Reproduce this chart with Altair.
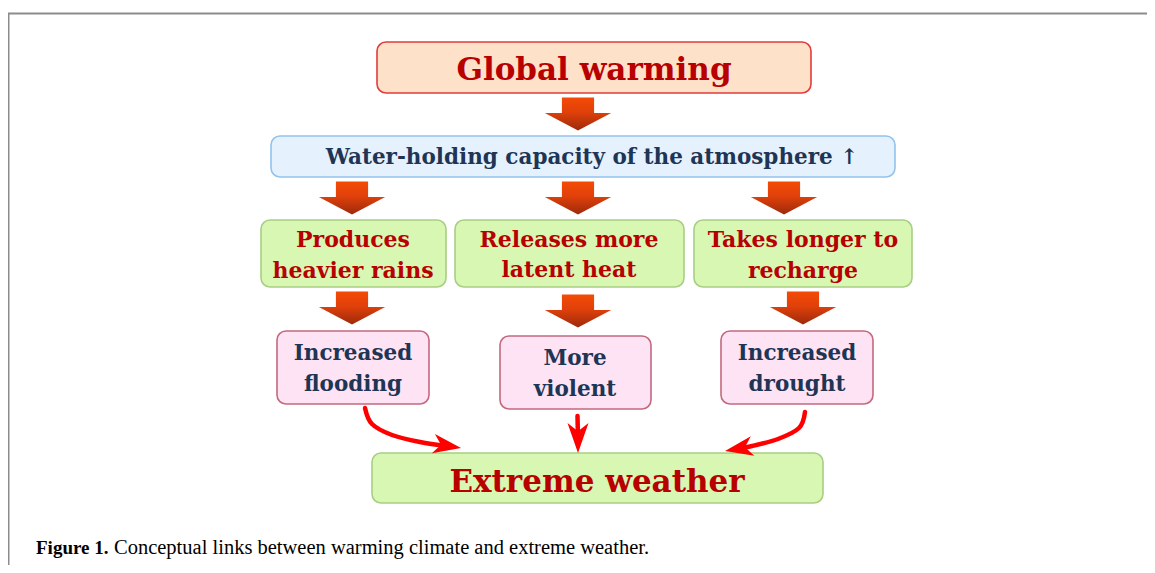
import altair as alt
import pandas as pd

W, H = 1139, 557

# ---------------- boxes ----------------
box_id = ["gw", "wh", "g1", "g2", "g3", "p1", "p2", "p3", "ew"]
box_kind = ["peach", "blue", "green", "green", "green", "pink", "pink", "pink", "green"]
box_left = [377, 271, 261, 455, 694, 277, 500, 721, 372]
box_right = [811, 895, 446, 684, 912, 429, 651, 873, 823]
box_top = [42, 136, 220, 220, 220, 331, 336, 331, 453]
box_bottom = [93, 177, 287, 287, 287, 404, 409, 404, 503]

kinds = ["peach", "blue", "green", "pink"]
kind_fill = ["#fde1c8", "#e5f1fc", "#d7f7b3", "#fde3f3"]
kind_stroke = ["#e33b3b", "#91c3ee", "#a8ce83", "#c3687f"]

# ---------------- texts ----------------
text_lines = ["Global warming", "Water-holding capacity of the atmosphere \u2191",
              "Produces", "heavier rains", "Releases more", "latent heat",
              "Takes longer to", "recharge",
              "Increased", "flooding", "More", "violent", "Increased", "drought",
              "Extreme weather"]
text_style = ["big", "blue", "green", "green", "green", "green", "green", "green",
              "pink", "pink", "pink", "pink", "pink", "pink", "big"]
text_x = [594, 592, 353, 353, 569, 569, 803, 803, 353, 353, 575, 575, 797, 797, 597]
text_y = [71, 158, 240, 271, 240, 270, 240, 271, 354, 385, 359, 390, 354, 385, 483]

# ---------------- block arrows ----------------
arrow_x = [578, 352, 578, 784, 352, 578, 803]
arrow_y = [114, 198, 198, 198, 308, 311, 308]

# ---------------- curved red arrows ----------------
curve_id = ["L"] * 5 + ["M"] * 2 + ["R"] * 5
curve_order = [0, 1, 2, 3, 4, 0, 1, 0, 1, 2, 3, 4]
curve_x = [365, 372, 392, 420, 447, 577.5, 578, 805, 799, 778, 752, 739]
curve_y = [408, 424, 435, 442, 446, 416, 440, 412, 428, 439, 446, 448.5]

head_x = [447.2, 578, 738.8]
head_y = [445.8, 438, 448.5]
head_angle = [9, 90, 169.7]
head_size = [784, 900, 784]

# ---------------- caption ----------------
cap_bold = "Figure 1."
cap_text = "Conceptual links between warming climate and extreme weather."

# ---------------- frame ----------------
frame_x = [8, 8.5]
frame_x2 = [1147, 8.5]
frame_y = [13.5, 13]
frame_y2 = [13.5, 565]

xs = alt.Scale(domain=[8, 8 + W], nice=False, zero=False)
ys = alt.Scale(domain=[8, 8 + H], nice=False, zero=False, reverse=True)

boxes = pd.DataFrame({"id": box_id, "kind": box_kind, "x": box_left, "x2": box_right,
                      "y": box_top, "y2": box_bottom})
texts = pd.DataFrame({"t": text_lines, "s": text_style, "x": text_x, "y": text_y})
arrows = pd.DataFrame({"x": arrow_x, "y": arrow_y})
curves = pd.DataFrame({"id": curve_id, "o": curve_order, "x": curve_x, "y": curve_y})
heads = pd.DataFrame({"x": head_x, "y": head_y, "a": head_angle, "s": head_size})
frame = pd.DataFrame({"x": frame_x, "x2": frame_x2, "y": frame_y, "y2": frame_y2})
cap = pd.DataFrame({"t": [cap_bold, cap_text], "w": ["bold", "normal"], "x": [36, 114], "y": [554, 554]})

frame_l = alt.Chart(frame).mark_rule(color="#8c8c8c", strokeWidth=2).encode(
    x=alt.X("x:Q", scale=xs, axis=None), x2="x2:Q",
    y=alt.Y("y:Q", scale=ys, axis=None), y2="y2:Q")

box_l = alt.Chart(boxes).mark_rect(cornerRadius=9, strokeWidth=1.6).encode(
    x=alt.X("x:Q", scale=xs, axis=None), x2="x2:Q",
    y=alt.Y("y:Q", scale=ys, axis=None), y2="y2:Q",
    fill=alt.Fill("kind:N", scale=alt.Scale(domain=kinds, range=kind_fill), legend=None),
    stroke=alt.Stroke("kind:N", scale=alt.Scale(domain=kinds, range=kind_stroke), legend=None))

grad = alt.Gradient(gradient="linear",
                    stops=[alt.GradientStop(color="#f44b06", offset=0),
                           alt.GradientStop(color="#e0400a", offset=0.45),
                           alt.GradientStop(color="#9c2a0c", offset=1)],
                    x1=0, x2=0, y1=0, y2=1)
arrow_path = "M-0.485,-0.5 L0.485,-0.5 L0.485,-0.03 L1,-0.03 L0,0.5 L-1,-0.03 L-0.485,-0.03 Z"
arrow_l = alt.Chart(arrows).mark_point(shape=arrow_path, filled=True, fill=grad, opacity=1,
                                       strokeWidth=0, size=4400).encode(
    x=alt.X("x:Q", scale=xs, axis=None), y=alt.Y("y:Q", scale=ys, axis=None))

curve_l = alt.Chart(curves).mark_line(color="#ff0000", strokeWidth=4.5, interpolate="cardinal",
                                      strokeCap="round").encode(
    x=alt.X("x:Q", scale=xs, axis=None), y=alt.Y("y:Q", scale=ys, axis=None),
    detail="id:N", order="o:Q")

head_path = "M1,0 L-1,-0.7 L-0.45,0 L-1,0.7 Z"
head_l = alt.Chart(heads).mark_point(shape=head_path, filled=True, color="#ff0000", opacity=1,
                                     strokeWidth=0).encode(
    x=alt.X("x:Q", scale=xs, axis=None), y=alt.Y("y:Q", scale=ys, axis=None),
    angle=alt.Angle("a:Q", scale=None), size=alt.Size("s:Q", scale=None))

def text_layer(style, size, color):
    return alt.Chart(texts).transform_filter(alt.datum.s == style).mark_text(
        font="DejaVu Serif", fontWeight="bold", fontSize=size, color=color,
        align="center", baseline="middle").encode(
        x=alt.X("x:Q", scale=xs, axis=None), y=alt.Y("y:Q", scale=ys, axis=None), text="t:N")

t_big = text_layer("big", 31, "#b80000")
t_blue = text_layer("blue", 21.5, "#1e3556")
t_green = text_layer("green", 22, "#b80000")
t_pink = text_layer("pink", 21.5, "#1e3556")

cap_b = alt.Chart(cap).transform_filter(alt.datum.w == "bold").mark_text(
    font="Liberation Serif", fontWeight="bold", fontSize=19, color="#000000",
    align="left", baseline="alphabetic").encode(
    x=alt.X("x:Q", scale=xs, axis=None), y=alt.Y("y:Q", scale=ys, axis=None), text="t:N")
cap_n = alt.Chart(cap).transform_filter(alt.datum.w == "normal").mark_text(
    font="Liberation Serif", fontSize=20.5, color="#000000",
    align="left", baseline="alphabetic").encode(
    x=alt.X("x:Q", scale=xs, axis=None), y=alt.Y("y:Q", scale=ys, axis=None), text="t:N")

chart = alt.layer(frame_l, box_l, arrow_l, curve_l, head_l, t_big, t_blue, t_green, t_pink,
                  cap_b, cap_n).properties(
    width=W, height=H, padding=0, autosize=alt.AutoSizeParams(type="none")
).configure_view(stroke=None)

chart.save("out.html", embed_options={"renderer": "svg", "actions": False})
